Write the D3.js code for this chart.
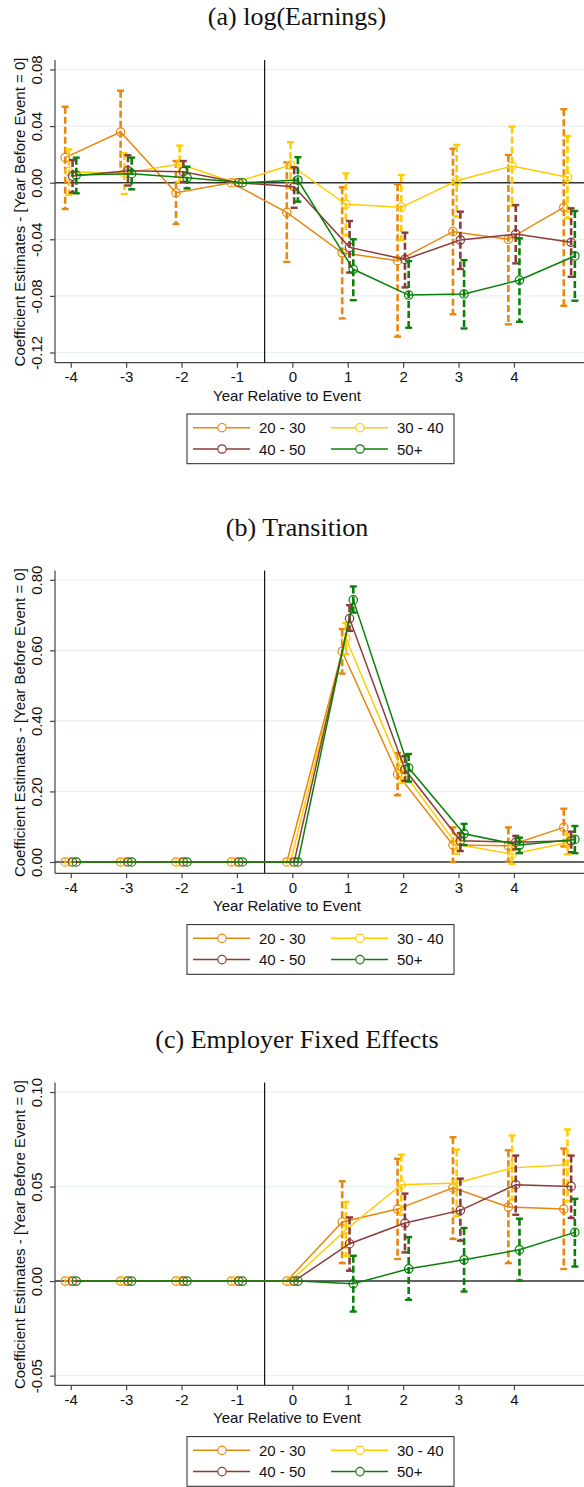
<!DOCTYPE html>
<html>
<head>
<meta charset="utf-8">
<script src="https://cdn.jsdelivr.net/npm/d3@7"></script>
<style>
  html, body { margin: 0; padding: 0; background: #fff; }
  svg { display: block; }
</style>
</head>
<body>
<svg id="chart" width="584" height="1487"></svg>
<script>
// ---------------- DATA ----------------
const years = [-4, -3, -2, -1, 0, 1, 2, 3, 4, 5];
const xTickValues = [-4, -3, -2, -1, 0, 1, 2, 3, 4];
const xTickLabels = ["-4", "-3", "-2", "-1", "0", "1", "2", "3", "4"];
const seriesNames = ["20 - 30", "30 - 40", "40 - 50", "50+"];
const seriesColors = ["#e8870e", "#ffcc00", "#8c3b3b", "#0a800a"];

// (a) log(Earnings)
const earnYTicks = [0.08, 0.04, 0.00, -0.04, -0.08, -0.12];
const earnYTickLabels = ["0.08", "0.04", "0.00", "-0.04", "-0.08", "-0.12"];
const earn2030   = [0.0177, 0.0358, -0.0071, 0, -0.0210, -0.0495, -0.0551, -0.0346, -0.0400, -0.0174];
const earn2030Lo = [-0.0186, 0.0066, -0.0292, null, -0.0560, -0.0959, -0.1088, -0.0930, -0.1001, -0.0870];
const earn2030Hi = [0.0537, 0.0650, 0.0153, null, 0.0144, -0.0033, -0.0011, 0.0240, 0.0196, 0.0519];
const earn3040   = [0.0078, 0.0066, 0.0132, 0, 0.0125, -0.0153, -0.0174, 0.0014, 0.0118, 0.0038];
const earn3040Lo = [-0.0087, -0.0080, 0.0005, null, -0.0036, -0.0372, -0.0405, -0.0240, -0.0162, -0.0252];
const earn3040Hi = [0.0236, 0.0208, 0.0262, null, 0.0286, 0.0066, 0.0054, 0.0267, 0.0396, 0.0330];
const earn4050   = [0.0047, 0.0085, 0.0078, 0, -0.0028, -0.0457, -0.0542, -0.0405, -0.0363, -0.0421];
const earn4050Lo = [-0.0070, -0.0020, 0.0005, null, -0.0177, -0.0635, -0.0740, -0.0610, -0.0570, -0.0665];
const earn4050Hi = [0.0160, 0.0194, 0.0153, null, 0.0109, -0.0271, -0.0353, -0.0205, -0.0158, -0.0181];
const earn50     = [0.0054, 0.0064, 0.0035, 0, 0.0019, -0.0612, -0.0794, -0.0787, -0.0688, -0.0518];
const earn50Lo   = [-0.0075, -0.0047, -0.0040, null, -0.0134, -0.0830, -0.1025, -0.1030, -0.0983, -0.0834];
const earn50Hi   = [0.0177, 0.0177, 0.0113, null, 0.0180, -0.0400, -0.0554, -0.0547, -0.0393, -0.0200];

// (b) Transition
const transYTicks = [0.8, 0.6, 0.4, 0.2, 0.0];
const transYTickLabels = ["0.80", "0.60", "0.40", "0.20", "0.00"];
const trans2030   = [0, 0, 0, 0, 0, 0.597, 0.249, 0.048, 0.046, 0.098];
const trans2030Lo = [null, null, null, null, null, 0.534, 0.189, 0.000, 0.001, 0.044];
const trans2030Hi = [null, null, null, null, null, 0.660, 0.309, 0.098, 0.098, 0.151];
const trans3040   = [0, 0, 0, 0, 0, 0.634, 0.262, 0.050, 0.022, 0.055];
const trans3040Lo = [null, null, null, null, null, 0.589, 0.224, 0.023, -0.006, 0.022];
const trans3040Hi = [null, null, null, null, null, 0.677, 0.300, 0.077, 0.047, 0.080];
const trans4050   = [0, 0, 0, 0, 0, 0.690, 0.262, 0.060, 0.056, 0.060];
const trans4050Lo = [null, null, null, null, null, 0.655, 0.230, 0.031, 0.036, 0.028];
const trans4050Hi = [null, null, null, null, null, 0.728, 0.300, 0.082, 0.074, 0.086];
const trans50     = [0, 0, 0, 0, 0, 0.743, 0.267, 0.080, 0.048, 0.064];
const trans50Lo   = [null, null, null, null, null, 0.707, 0.228, 0.048, 0.025, 0.025];
const trans50Hi   = [null, null, null, null, null, 0.781, 0.306, 0.108, 0.069, 0.102];

// (c) Employer Fixed Effects
const feYTicks = [0.10, 0.05, 0.00, -0.05];
const feYTickLabels = ["0.10", "0.05", "0.00", "-0.05"];
const fe2030   = [0, 0, 0, 0, 0, 0.0313, 0.0381, 0.0493, 0.0392, 0.0381];
const fe2030Lo = [null, null, null, null, null, 0.0095, 0.0117, 0.0223, 0.0095, 0.0064];
const fe2030Hi = [null, null, null, null, null, 0.0528, 0.0647, 0.0761, 0.0692, 0.0701];
const fe3040   = [0, 0, 0, 0, 0, 0.0272, 0.0510, 0.0519, 0.0599, 0.0616];
const fe3040Lo = [null, null, null, null, null, 0.0134, 0.0351, 0.0342, 0.0431, 0.0422];
const fe3040Hi = [null, null, null, null, null, 0.0419, 0.0669, 0.0696, 0.0770, 0.0802];
const fe4050   = [0, 0, 0, 0, 0, 0.0198, 0.0307, 0.0374, 0.0510, 0.0501];
const fe4050Lo = [null, null, null, null, null, 0.0055, 0.0152, 0.0214, 0.0351, 0.0334];
const fe4050Hi = [null, null, null, null, null, 0.0337, 0.0463, 0.0542, 0.0664, 0.0664];
const fe50     = [0, 0, 0, 0, 0, -0.0014, 0.0065, 0.0113, 0.0166, 0.0258];
const fe50Lo   = [null, null, null, null, null, -0.0161, -0.0099, -0.0055, 0.0003, 0.0077];
const fe50Hi   = [null, null, null, null, null, 0.0134, 0.0233, 0.0281, 0.0330, 0.0435];

const panels = [
  { title: "(a) log(Earnings)", bottom: 362.7, yDomain: [-0.1272, 0.0867],
    yTicks: earnYTicks, yTickLabels: earnYTickLabels,
    series: [[earn2030, earn2030Lo, earn2030Hi], [earn3040, earn3040Lo, earn3040Hi],
             [earn4050, earn4050Lo, earn4050Hi], [earn50, earn50Lo, earn50Hi]] },
  { title: "(b) Transition", bottom: 873.3, yDomain: [-0.0321, 0.826],
    yTicks: transYTicks, yTickLabels: transYTickLabels,
    series: [[trans2030, trans2030Lo, trans2030Hi], [trans3040, trans3040Lo, trans3040Hi],
             [trans4050, trans4050Lo, trans4050Hi], [trans50, trans50Lo, trans50Hi]] },
  { title: "(c) Employer Fixed Effects", bottom: 1385.3, yDomain: [-0.0551, 0.105],
    yTicks: feYTicks, yTickLabels: feYTickLabels,
    series: [[fe2030, fe2030Lo, fe2030Hi], [fe3040, fe3040Lo, fe3040Hi],
             [fe4050, fe4050Lo, fe4050Hi], [fe50, fe50Lo, fe50Hi]] }
];

// ---------------- DRAW ----------------
const svg = d3.select("#chart");
const plotLeft = 55, plotRight = 584, plotH = 302.7;
const offsets = [-0.1, -0.033, 0.033, 0.1];
const sansFont = "'Liberation Sans', Arial, sans-serif";
const serifFont = "'Liberation Serif', 'Times New Roman', serif";

const x = d3.scaleLinear().domain([-4.284, 5.265]).range([plotLeft, plotRight]);

panels.forEach(p => {
  const g = svg.append("g");
  const top = p.bottom - plotH;
  const y = d3.scaleLinear().domain(p.yDomain).range([p.bottom, top]);

  // title
  g.append("text").attr("x", 297).attr("y", p.bottom - 337.4)
    .attr("text-anchor", "middle").attr("font-family", serifFont).attr("font-size", 26)
    .attr("fill", "#111").text(p.title);

  // gridlines
  g.append("g").selectAll("line").data(p.yTicks).join("line")
    .attr("x1", plotLeft).attr("x2", plotRight)
    .attr("y1", d => y(d)).attr("y2", d => y(d))
    .attr("stroke", "#e8f0f2").attr("stroke-width", 1.2);

  // y axis
  const yAxis = d3.axisLeft(y).tickValues(p.yTicks).tickSize(5)
    .tickFormat((d, i) => p.yTickLabels[i]);
  const ya = g.append("g").attr("transform", `translate(${plotLeft},0)`).call(yAxis);
  ya.select(".domain").attr("d", `M0,${top}V${p.bottom}`).attr("stroke", "#444").attr("stroke-width", 1.2);
  ya.selectAll(".tick line").attr("stroke", "#444").attr("stroke-width", 1.2);
  ya.selectAll(".tick text")
    .attr("font-family", sansFont).attr("font-size", 15).attr("fill", "#111")
    .attr("x", null).attr("dy", null).attr("text-anchor", "middle")
    .attr("transform", "translate(-13,0) rotate(-90)");

  // y title
  g.append("text")
    .attr("transform", `translate(25,${p.bottom - 150.7}) rotate(-90)`)
    .attr("text-anchor", "middle").attr("font-family", sansFont).attr("font-size", 15)
    .attr("fill", "#111").text("Coefficient Estimates - [Year Before Event = 0]");

  // x axis
  const xAxis = d3.axisBottom(x).tickValues(xTickValues).tickSize(5)
    .tickFormat((d, i) => xTickLabels[i]);
  const xa = g.append("g").attr("transform", `translate(0,${p.bottom})`).call(xAxis);
  xa.select(".domain").attr("d", `M${plotLeft},0H${plotRight}`).attr("stroke", "#444").attr("stroke-width", 1.2);
  xa.selectAll(".tick line").attr("stroke", "#444").attr("stroke-width", 1.2);
  xa.selectAll(".tick text").attr("font-family", sansFont).attr("font-size", 15)
    .attr("fill", "#111").attr("y", 9).attr("dy", "0.71em");

  g.append("text").attr("x", 287).attr("y", p.bottom + 38)
    .attr("text-anchor", "middle").attr("font-family", sansFont).attr("font-size", 15)
    .attr("fill", "#111").text("Year Relative to Event");

  // zero line and event line
  g.append("line").attr("x1", plotLeft).attr("x2", plotRight)
    .attr("y1", y(0)).attr("y2", y(0)).attr("stroke", "#333").attr("stroke-width", 1.5);
  g.append("line").attr("x1", x(-0.5)).attr("x2", x(-0.5))
    .attr("y1", top).attr("y2", p.bottom).attr("stroke", "#111").attr("stroke-width", 1.2);

  // series
  p.series.forEach((s, si) => {
    const [vals, lo, hi] = s;
    const color = seriesColors[si];
    const pts = years.map((yr, i) => ({ xv: yr + offsets[si], v: vals[i], lo: lo[i], hi: hi[i] }));
    const sg = g.append("g");
    const ci = pts.filter(d => d.lo !== null && d.hi !== null);
    // CI dashed
    sg.selectAll("line.ci").data(ci).join("line").attr("class", "ci")
      .attr("x1", d => x(d.xv)).attr("x2", d => x(d.xv))
      .attr("y1", d => y(d.hi)).attr("y2", d => y(d.lo))
      .attr("stroke", color).attr("stroke-width", 2.6).attr("stroke-dasharray", "7,3");
    // caps
    ["hi", "lo"].forEach(k => {
      sg.selectAll("line.cap" + k).data(ci).join("line").attr("class", "cap" + k)
        .attr("x1", d => x(d.xv) - 3.5).attr("x2", d => x(d.xv) + 3.5)
        .attr("y1", d => y(d[k])).attr("y2", d => y(d[k]))
        .attr("stroke", color).attr("stroke-width", 2.4);
    });
    // line
    const line = d3.line().x(d => x(d.xv)).y(d => y(d.v));
    sg.append("path").datum(pts).attr("d", line).attr("fill", "none")
      .attr("stroke", color).attr("stroke-width", 1.5);
    // markers
    sg.selectAll("circle").data(pts).join("circle")
      .attr("cx", d => x(d.xv)).attr("cy", d => y(d.v)).attr("r", 4.2)
      .attr("fill", "none").attr("stroke", color).attr("stroke-width", 1.2);
  });

  // legend
  const lg = g.append("g");
  const ly = p.bottom + 51.3;
  lg.append("rect").attr("x", 187).attr("y", ly).attr("width", 267).attr("height", 49.7)
    .attr("fill", "#fff").attr("stroke", "#222").attr("stroke-width", 1);
  seriesNames.forEach((name, i) => {
    const col = i % 2, row = Math.floor(i / 2);
    const x0 = col === 0 ? 193 : 331;
    const cy = p.bottom + (row === 0 ? 65 : 86.3);
    lg.append("line").attr("x1", x0).attr("x2", x0 + 57).attr("y1", cy).attr("y2", cy)
      .attr("stroke", seriesColors[i]).attr("stroke-width", 1.5);
    lg.append("circle").attr("cx", x0 + 29).attr("cy", cy).attr("r", 4.2)
      .attr("fill", "#fff").attr("stroke", seriesColors[i]).attr("stroke-width", 1.2);
    lg.append("text").attr("x", x0 + 66).attr("y", cy + 5.5)
      .attr("font-family", sansFont).attr("font-size", 15).attr("fill", "#111").text(name);
  });
});
</script>
</body>
</html>
